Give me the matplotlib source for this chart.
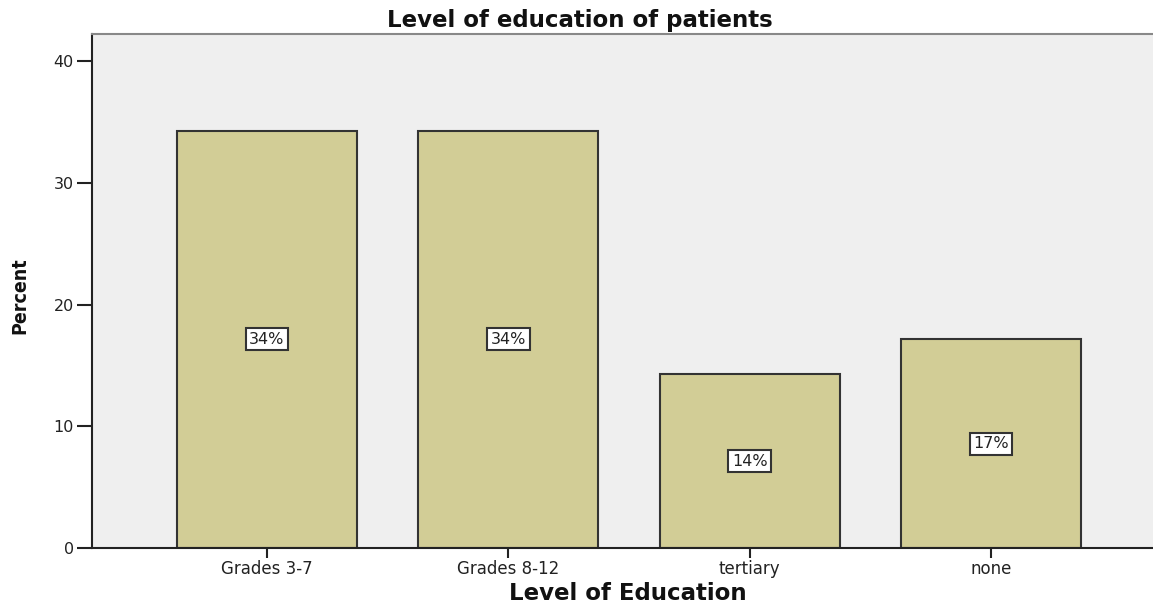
import matplotlib
matplotlib.use("Agg")
import matplotlib.pyplot as plt

categories = ["Grades 3-7", "Grades 8-12", "tertiary", "none"]
percents = [34.29, 34.29, 14.29, 17.14]
labels = ["34%", "34%", "14%", "17%"]
yticks = [0, 10, 20, 30, 40]

plt.rcParams['font.family'] = ['DejaVu Sans']

fig = plt.figure(figsize=(11.53, 6.03), dpi=100)
ax = fig.add_axes([92/1153, 55/603, 1 - 92/1153, (548-34)/603])
ax.set_facecolor('#EFEFEF')

x = list(range(len(categories)))
ax.bar(x, percents, width=0.747, color='#D2CD96', edgecolor='#333333', linewidth=1.5, zorder=2)

for xi, v, lab in zip(x, percents, labels):
    ax.text(xi, v / 2, lab, ha='center', va='center', fontsize=11.5, color='#222222', zorder=3,
            bbox=dict(boxstyle='square,pad=0.22', facecolor='white', edgecolor='#333333', linewidth=1.5))

ax.set_xlim(-0.725, 3.671)
ax.set_ylim(0, 42.22)
ax.set_xticks(x)
ax.set_xticklabels(categories, fontsize=12, color='#222222')
ax.set_yticks(yticks)
ax.set_yticklabels([str(t) for t in yticks], fontsize=11.5, color='#222222')
ax.tick_params(axis='y', direction='out', length=11, width=1.5, color='#222222', pad=2)
ax.tick_params(axis='x', direction='out', length=7, width=1.5, color='#222222', pad=2)

for s in ['left', 'bottom']:
    ax.spines[s].set_color('#222222')
    ax.spines[s].set_linewidth(1.5)
ax.spines['top'].set_color('#888888')
ax.spines['top'].set_linewidth(1.5)
ax.spines['right'].set_visible(False)

fig.text(580/1153, 1 - 20/603, "Level of education of patients", ha='center', va='center',
         fontsize=16.5, fontweight='bold', color='#111111')
fig.text(628/1153, 1 - 593/603, "Level of Education", ha='center', va='center',
         fontsize=16.5, fontweight='bold', color='#111111')
fig.text(20/1153, 1 - 296/603, "Percent", ha='center', va='center', rotation=90,
         fontsize=14, fontweight='bold', fontstretch='condensed', color='#111111')

fig.savefig('out.png', dpi=100)
